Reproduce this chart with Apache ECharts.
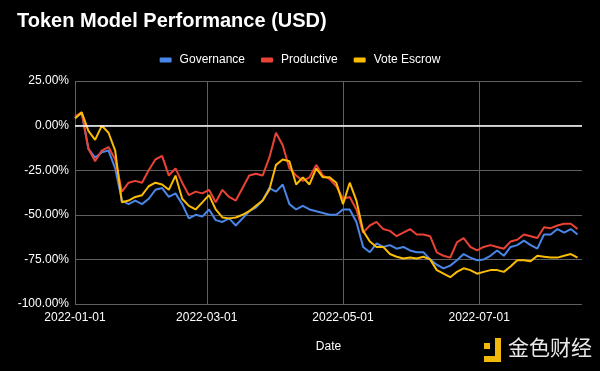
<!DOCTYPE html>
<html>
<head>
<meta charset="utf-8">
<script src="https://cdn.jsdelivr.net/npm/echarts@6/dist/echarts.min.js"></script>
<style>html,body{margin:0;padding:0;background:#000}#c{width:600px;height:371px}</style>
</head>
<body>
<div id="c"></div>
<script>
var dates = ['2022-01-01','2022-01-04','2022-01-07','2022-01-10','2022-01-13','2022-01-16','2022-01-19','2022-01-22','2022-01-25','2022-01-28','2022-01-31',
'2022-02-03','2022-02-06','2022-02-09','2022-02-12','2022-02-15','2022-02-18','2022-02-21','2022-02-24','2022-02-27',
'2022-03-02','2022-03-05','2022-03-08','2022-03-11','2022-03-14','2022-03-17','2022-03-20','2022-03-23','2022-03-26','2022-03-29',
'2022-04-01','2022-04-04','2022-04-07','2022-04-10','2022-04-13','2022-04-16','2022-04-19','2022-04-22','2022-04-25','2022-04-28',
'2022-05-01','2022-05-04','2022-05-07','2022-05-10','2022-05-13','2022-05-16','2022-05-19','2022-05-22','2022-05-25','2022-05-28','2022-05-31',
'2022-06-03','2022-06-06','2022-06-09','2022-06-12','2022-06-15','2022-06-18','2022-06-21','2022-06-24','2022-06-27','2022-06-30',
'2022-07-03','2022-07-06','2022-07-09','2022-07-12','2022-07-15','2022-07-18','2022-07-21','2022-07-24','2022-07-27','2022-07-30',
'2022-08-02','2022-08-05','2022-08-08','2022-08-11','2022-08-14'];

var governance = [4.5,7,-13,-18,-15,-14,-24,-42,-44,-42,-44,
-41,-36,-35,-40,-38,-44,-52,-50,-51,
-47,-53,-54,-52,-56,-52,-48,-46,-42,-35,
-37,-33,-44,-47,-45,-47,-48,-49,-50,-50,
-47,-47,-54,-68,-71,-66,-68,-67,-69,-68,-70,
-71,-71,-75,-78,-80,-78.5,-75.5,-72,-74,-75.5,
-75,-73,-70,-73,-68,-67,-64.5,-67,-69,-61,
-61,-58,-60,-58,-61];

var productive = [5,7.5,-13,-20,-14,-12,-19,-37,-32,-31,-32,
-25,-19,-17,-28,-24,-32,-39,-37,-38,
-36,-43,-36,-40,-42,-35,-28,-27,-28,-18,
-4,-11,-24,-28,-31,-29,-22,-28,-30,-34,
-41,-40,-47,-60,-56,-54,-58,-59,-62,-60,-58,
-61,-61,-62,-71,-73,-74,-65.5,-63,-68,-70,
-68,-67,-68,-69,-65,-64,-61,-62,-63,-57,
-57.5,-56,-55,-55,-58];

var voteEscrow = [4,7.5,-3,-8,0,-4,-14,-43,-42,-40,-39,
-34,-32,-33,-36,-28,-41,-45,-47,-43,
-39,-47,-51.5,-52,-51.5,-50,-48,-45,-42,-36,
-22,-19,-20,-33,-29,-33,-24,-29,-29,-32,
-44,-32,-42,-59,-65,-68,-68,-72,-73.5,-74.5,-74,
-74.5,-73.5,-75,-81,-83,-85,-82,-80,-81,-83,
-82,-81,-81,-82,-79,-75.5,-75.5,-76,-73,-73.5,
-74,-74,-73,-72,-74];

var xTicks = ['2022-01-01','2022-03-01','2022-05-01','2022-07-01'];
var xMin = '2022-01-01', xMax = '2022-08-16';
var seriesNames = ['Governance','Productive','Vote Escrow'];
var colors = ['#4a86e8','#ea4335','#fbbc04'];

function t(d){ return Date.parse(d + 'T00:00:00Z'); }
function pairs(vals){ return vals.map(function(v,i){ return [t(dates[i]), v]; }); }
var tickVals = xTicks.map(t);

var chart = echarts.init(document.getElementById('c'), null, {renderer:'canvas'});
var font = 'Liberation Sans, Arial, sans-serif';
var option = {
  backgroundColor: '#000',
  animation: false,
  color: colors,
  title: {
    text: 'Token Model Performance (USD)',
    left: 17, top: 11, padding: 0,
    textStyle: {color:'#fff', fontSize:20, fontWeight:'bold', fontFamily:font}
  },
  legend: {
    top: 49, left: 'center',
    icon: 'roundRect', itemWidth: 12, itemHeight: 5, itemGap: 16,
    textStyle: {color:'#fff', fontSize:12, fontFamily:font, padding:[0,0,0,3]},
    data: seriesNames
  },
  grid: {left:75, right:18, top:81, bottom:67, containLabel:false},
  xAxis: {
    type: 'value',
    min: t(xMin), max: t(xMax),
    name: 'Date', nameLocation: 'middle', nameGap: 37,
    nameTextStyle: {color:'#fff', fontSize:12, fontFamily:font},
    axisLine: {show:false},
    axisTick: {show:false, customValues: tickVals},
    axisLabel: {
      customValues: tickVals,
      color:'#fff', fontSize:12, fontFamily:font, margin:8,
      formatter: function(v){ return new Date(v).toISOString().slice(0,10); }
    },
    splitLine: {show:true, lineStyle:{color:'#5f5f5f', width:1}}
  },
  yAxis: {
    type: 'value', min: -100, max: 25, interval: 25,
    axisLine: {show:false}, axisTick: {show:false},
    axisLabel: {color:'#fff', fontSize:12, fontFamily:font, margin:6,
      formatter: function(v){ return v.toFixed(2) + '%'; }},
    splitLine: {lineStyle:{color:'#5f5f5f', width:1}}
  },
  series: [
    {name: seriesNames[0], type:'line', showSymbol:false, data: pairs(governance), lineStyle:{width:2},
     markLine: {silent:true, symbol:'none', label:{show:false}, lineStyle:{color:'#fff', width:1.5, type:'solid'}, data:[{yAxis:0}]}},
    {name: seriesNames[1], type:'line', showSymbol:false, data: pairs(productive), lineStyle:{width:2}},
    {name: seriesNames[2], type:'line', showSymbol:false, data: pairs(voteEscrow), lineStyle:{width:2}}
  ],
  graphic: [
    {type:'rect', shape:{x:484, y:343, width:6, height:6}, style:{fill:'#f0b90b'}},
    {type:'rect', shape:{x:495, y:338, width:6, height:24}, style:{fill:'#f0b90b'}},
    {type:'rect', shape:{x:484, y:356, width:17, height:6}, style:{fill:'#f0b90b'}},
    {type:'text', left:508, top:337, style:{text:'金色财经', fill:'#e8e8e8', font:'21px "Noto Sans CJK SC"'}}
  ]
};
chart.setOption(option);
</script>
</body>
</html>
